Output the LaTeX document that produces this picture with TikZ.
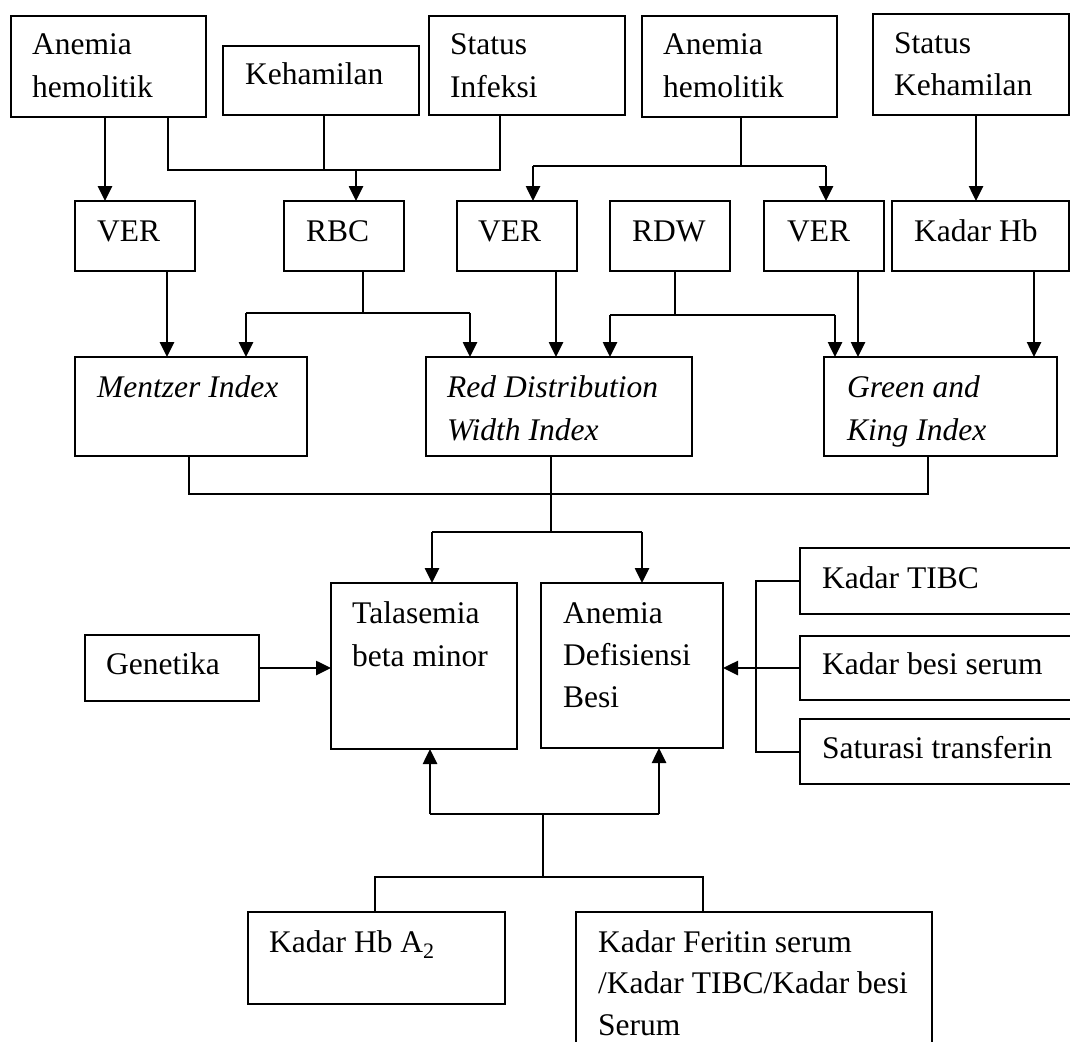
\documentclass[tikz,border=0pt]{standalone}
\usepackage{fontspec}
\setmainfont{Liberation Serif}
\usetikzlibrary{arrows.meta,calc}
\newcommand\ml[1]{\begin{tabular}[t]{@{}l@{}}#1\end{tabular}}
\begin{document}
\begin{tikzpicture}[x=1pt,y=-1pt,
  box/.style={draw, line width=2pt, inner sep=0pt, outer sep=0pt, anchor=north west},
  txt/.style={anchor=base west, inner sep=0pt, font=\fontsize{31.5}{43}\selectfont},
  itxt/.style={txt, font=\fontsize{31.5}{43}\selectfont\itshape},
  conn/.style={line width=2pt},
  arr/.style={line width=2.6pt, -{Triangle[length=15pt,width=14pt]}}]
\useasboundingbox (0,0) rectangle (1070,1041);

% ---- boxes ----
\node[box, minimum width=195pt, minimum height=101pt] (ah1) at (11,16) {};
\node[box, minimum width=196pt, minimum height=69pt] (keh) at (223,46) {};
\node[box, minimum width=196pt, minimum height=99pt] (sinf) at (429,16) {};
\node[box, minimum width=195pt, minimum height=101pt] (ah2) at (642,16) {};
\node[box, minimum width=196pt, minimum height=101pt] (skeh) at (873,14) {};
\node[box, minimum width=120pt, minimum height=70pt] (ver1) at (75,201) {};
\node[box, minimum width=120pt, minimum height=70pt] (rbc) at (284,201) {};
\node[box, minimum width=120pt, minimum height=70pt] (ver2) at (457,201) {};
\node[box, minimum width=120pt, minimum height=70pt] (rdw) at (610,201) {};
\node[box, minimum width=120pt, minimum height=70pt] (ver3) at (764,201) {};
\node[box, minimum width=177pt, minimum height=70pt] (khb) at (892,201) {};
\node[box, minimum width=232pt, minimum height=99pt] (mi) at (75,357) {};
\node[box, minimum width=266pt, minimum height=99pt] (rdi) at (426,357) {};
\node[box, minimum width=233pt, minimum height=99pt] (gk) at (824,357) {};
\node[box, minimum width=186pt, minimum height=166pt] (tal) at (331,583) {};
\node[box, minimum width=182pt, minimum height=165pt] (adb) at (541,583) {};
\node[box, minimum width=174pt, minimum height=66pt] (gen) at (85,635) {};
\node[box, minimum width=290pt, minimum height=66pt] (tibc) at (800,548) {};
\node[box, minimum width=290pt, minimum height=64pt] (besi) at (800,636) {};
\node[box, minimum width=290pt, minimum height=65pt] (sat) at (800,719) {};
\node[box, minimum width=257pt, minimum height=92pt] (hba2) at (248,912) {};
\node[box, minimum width=356pt, minimum height=150pt] (fer) at (576,912) {};

% ---- texts ----
\node[txt] (t-ah1) at (32,55) {\ml{Anemia\\hemolitik}};
\node[txt] (t-keh) at (245,84) {Kehamilan};
\node[txt] (t-sinf) at (450,55) {\ml{Status\\Infeksi}};
\node[txt] (t-ah2) at (663,55) {\ml{Anemia\\hemolitik}};
\node[txt] (t-skeh) at (894,53) {\ml{Status\\Kehamilan}};
\node[txt] (t-ver1) at (97,241) {VER};
\node[txt] (t-rbc) at (306,241) {RBC};
\node[txt] (t-ver2) at (478,241) {VER};
\node[txt] (t-rdw) at (632,241) {RDW};
\node[txt] (t-ver3) at (787,241) {VER};
\node[txt] (t-khb) at (914,241) {Kadar Hb};
\node[itxt] (t-mi) at (97,397) {Mentzer Index};
\node[itxt] (t-rdi) at (447,397) {\ml{Red Distribution\\Width Index}};
\node[itxt] (t-gk) at (847,397) {\ml{Green and\\King Index}};
\node[txt] (t-tal) at (352,623) {\ml{Talasemia\\beta minor}};
\node[txt, font=\fontsize{31.5}{42}\selectfont] (t-adb) at (563,623) {\ml{Anemia\\Defisiensi\\Besi}};
\node[txt] (t-gen) at (106,674) {Genetika};
\node[txt] (t-tibc) at (822,588) {Kadar TIBC};
\node[txt] (t-besi) at (822,674) {Kadar besi serum};
\node[txt] (t-sat) at (822,758) {Saturasi transferin};
\node[txt] (t-hba2) at (269,952) {Kadar Hb A\textsubscript{2}};
\node[txt, font=\fontsize{31.5}{41.5}\selectfont] (t-fer) at (598,952) {\ml{Kadar Feritin serum\\/Kadar TIBC/Kadar besi\\Serum}};

% ---- connectors: top row to second row ----
\draw[arr] ($(ah1.south west)+(94,0)$) -- ($(ah1.south west |- ver1.north)+(94,0)$);
\coordinate (j1) at (356,170);
\draw[conn] ($(ah1.south west)+(157,0)$) |- (j1);
\draw[conn] ($(sinf.south west)+(71,0)$) |- (j1);
\draw[conn] ($(keh.south west)+(101,0)$) -- ($(keh.south west |- j1)+(101,0)$);
\draw[arr] (j1) -- (j1 |- rbc.north);

\coordinate (j2) at (741,166);
\draw[conn] ($(ah2.south west)+(99,0)$) -- (j2);
\draw[conn] ($(ver2.north west |- j2)+(76,0)$) -- ($(ver3.north west |- j2)+(62,0)$);
\draw[arr] ($(ver2.north west |- j2)+(76,0)$) -- ($(ver2.north west)+(76,0)$);
\draw[arr] ($(ver3.north west |- j2)+(62,0)$) -- ($(ver3.north west)+(62,0)$);

\draw[arr] ($(skeh.south west)+(103,0)$) -- ($(skeh.south west |- khb.north)+(103,0)$);

% ---- second row to index row ----
\draw[arr] ($(ver1.south west)+(92,0)$) -- ($(ver1.south west |- mi.north)+(92,0)$);
\coordinate (j3) at (363,313);
\draw[conn] ($(rbc.south west)+(79,0)$) -- (j3);
\draw[conn] ($(mi.north west |- j3)+(171,0)$) -- ($(rdi.north west |- j3)+(44,0)$);
\draw[arr] ($(mi.north west |- j3)+(171,0)$) -- ($(mi.north west)+(171,0)$);
\draw[arr] ($(rdi.north west |- j3)+(44,0)$) -- ($(rdi.north west)+(44,0)$);

\draw[arr] ($(ver2.south west)+(99,0)$) -- ($(ver2.south west |- rdi.north)+(99,0)$);

\coordinate (j4) at (675,315);
\draw[conn] ($(rdw.south west)+(65,0)$) -- (j4);
\draw[conn] ($(rdi.north west |- j4)+(184,0)$) -- ($(gk.north west |- j4)+(11,0)$);
\draw[arr] ($(rdi.north west |- j4)+(184,0)$) -- ($(rdi.north west)+(184,0)$);
\draw[arr] ($(gk.north west |- j4)+(11,0)$) -- ($(gk.north west)+(11,0)$);

\draw[arr] ($(ver3.south west)+(94,0)$) -- ($(ver3.south west |- gk.north)+(94,0)$);
\draw[arr] ($(khb.south west)+(142,0)$) -- ($(khb.south west |- gk.north)+(142,0)$);

% ---- index row to diagnoses ----
\coordinate (j5) at (551,494);
\coordinate (j6) at (551,532);
\draw[conn] ($(mi.south west)+(114,0)$) |- ($(gk.south west |- j5)+(104,0)$) -- ($(gk.south west)+(104,0)$);
\draw[conn] ($(rdi.south west)+(125,0)$) -- (j6);
\draw[conn] ($(tal.north west |- j6)+(101,0)$) -- ($(adb.north west |- j6)+(101,0)$);
\draw[arr] ($(tal.north west |- j6)+(101,0)$) -- ($(tal.north west)+(101,0)$);
\draw[arr] ($(adb.north west |- j6)+(101,0)$) -- ($(adb.north west)+(101,0)$);

% ---- side inputs ----
\draw[arr] (gen.east) -- (gen.east -| tal.west);
\coordinate (jb) at (756,668);
\draw[conn] (tibc.west) -| (jb) |- (sat.west);
\draw[conn] (besi.west) -- (jb);
\draw[arr] (jb) -- (jb -| adb.east);

% ---- bottom tests ----
\coordinate (j7) at (543,814);
\coordinate (j8) at (543,877);
\draw[conn] ($(tal.south west |- j7)+(99,0)$) -- ($(adb.south west |- j7)+(118,0)$);
\draw[arr] ($(tal.south west |- j7)+(99,0)$) -- ($(tal.south west)+(99,0)$);
\draw[arr] ($(adb.south west |- j7)+(118,0)$) -- ($(adb.south west)+(118,0)$);
\draw[conn] (j7) -- (j8);
\draw[conn] ($(hba2.north west)+(127,0)$) |- ($(fer.north west |- j8)+(127,0)$) -- ($(fer.north west)+(127,0)$);
\end{tikzpicture}
\end{document}
